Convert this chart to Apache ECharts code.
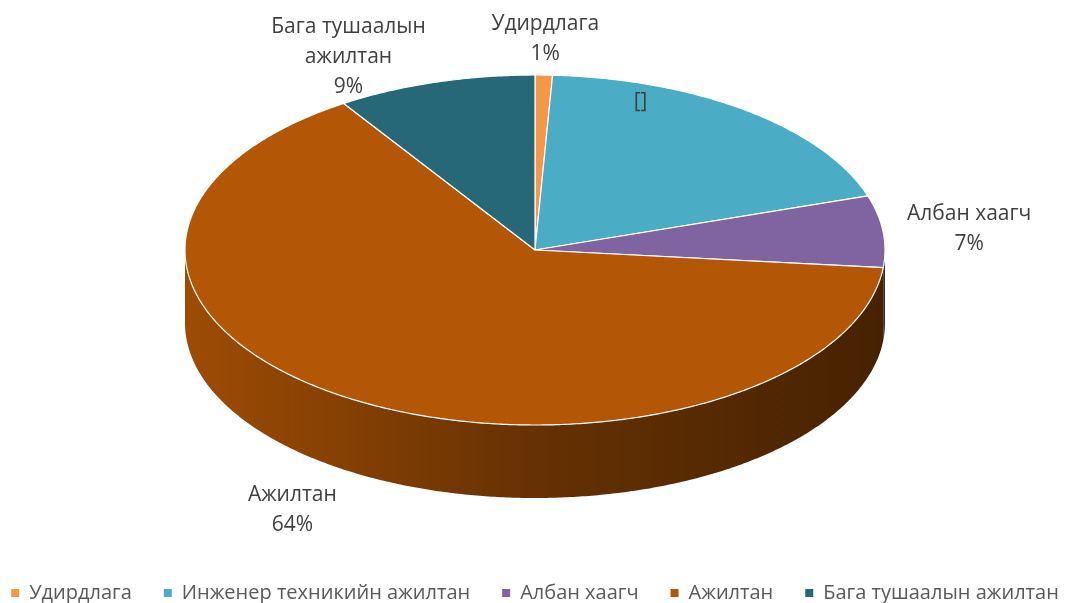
<!DOCTYPE html>
<html><head><meta charset="utf-8">
<script src="https://cdn.jsdelivr.net/npm/echarts@6/dist/echarts.min.js"></script>
<style>html,body{margin:0;padding:0;background:#fff}#chart{width:1070px;height:603px}</style>
</head><body><div id="chart"></div>
<script>
// ---- data ----
const categories = ['Удирдлага', 'Инженер техникийн ажилтан', 'Албан хаагч', 'Ажилтан', 'Бага тушаалын ажилтан'];
const values = [0.8, 19.2, 6.6, 64.2, 9.2];
const labelNames = ['Удирдлага', null, 'Албан хаагч', 'Ажилтан', 'Бага тушаалын\nажилтан'];
const colors = ['#F79646', '#4BACC6', '#8064A2', '#B35605', '#266878'];

// ---- layout / style (label nudges, px) ----
const labelNudge = [[0, 0], [-54, -44], [18, 2], [-30, 12], [-62, 26]];
const CX = 535, CY = 250, RX = 350, RY = 175, DEPTH = 73;
const FONT_FAMILY = '"Open Sans", "Noto Sans", sans-serif';
const LABEL_SIZE = 21, LINE_H = 30;
const total = values.reduce((a, b) => a + b, 0);

function shade(hex, f) {
  const n = parseInt(hex.slice(1), 16);
  const r = Math.round(((n >> 16) & 255) * f), g = Math.round(((n >> 8) & 255) * f), b = Math.round((n & 255) * f);
  return 'rgb(' + r + ',' + g + ',' + b + ')';
}
function pt(t, dy) { return [CX + RX * Math.sin(t), CY - RY * Math.cos(t) + (dy || 0)]; }
function arcPts(a, b, dy) {
  const n = Math.max(2, Math.ceil((b - a) / (Math.PI / 360)));
  const out = [];
  for (let i = 0; i <= n; i++) out.push(pt(a + (b - a) * i / n, dy));
  return out;
}
const mctx = document.createElement('canvas').getContext('2d');
function measure(text) {
  mctx.font = LABEL_SIZE + 'px ' + FONT_FAMILY;
  return Math.max.apply(null, text.split('\n').map(l => mctx.measureText(l).width));
}

function renderItem(params, api) {
  const i = params.dataIndex;
  let before = 0;
  for (let k = 0; k < i; k++) before += values[k];
  const v = api.value(0);
  const a = before / total * 2 * Math.PI, b = (before + v) / total * 2 * Math.PI;
  const children = [];
  const fa = Math.max(a, Math.PI / 2), fb = Math.min(b, 3 * Math.PI / 2);
  if (fb > fa) {
    const top = arcPts(fa, fb, 0), bot = arcPts(fa, fb, DEPTH).reverse();
    children.push({
      type: 'polygon', z2: 1,
      shape: { points: top.concat(bot) },
      style: {
        fill: new echarts.graphic.LinearGradient(CX - RX, 0, CX + RX, 0, [
          { offset: 0, color: shade(colors[i], 0.88) },
          { offset: 0.5, color: shade(colors[i], 0.57) },
          { offset: 1, color: shade(colors[i], 0.39) }
        ], true)
      }
    });
  }
  children.push({
    type: 'polygon', z2: 10,
    shape: { points: [[CX, CY]].concat(arcPts(a, b, 0)) },
    style: { fill: colors[i], stroke: '#ffffff', lineWidth: 1.2, lineJoin: 'round' }
  });
  const m = (a + b) / 2;
  const pct = Math.round(v / total * 100) + '%';
  const name = labelNames[i];
  const nd = labelNudge[i];
  if (name === null) {
    const p = [CX + RX * 0.75 * Math.sin(m), CY - RY * 0.75 * Math.cos(m)];
    children.push({ type: 'text', z2: 20, x: p[0] + nd[0], y: p[1] + nd[1],
      style: { text: '[]', fill: '#404040', font: LABEL_SIZE + 'px ' + FONT_FAMILY, align: 'center', verticalAlign: 'middle' } });
  } else {
    const text = name + '\n' + pct;
    const w = measure(text), h = text.split('\n').length * LINE_H;
    const e = pt(m, DEPTH * Math.max(0, -Math.cos(m)));
    let ux = Math.sin(m), uy = -Math.cos(m);
    const mx = Math.max(Math.abs(ux), Math.abs(uy));
    ux /= mx; uy /= mx;
    const gap = 6;
    children.push({ type: 'text', z2: 20, x: e[0] + ux * (w / 2 + gap) + nd[0], y: e[1] + uy * (h / 2 + gap) + nd[1],
      style: { text: text, fill: '#404040', font: LABEL_SIZE + 'px ' + FONT_FAMILY, lineHeight: LINE_H, align: 'center', verticalAlign: 'middle' } });
  }
  return { type: 'group', children: children };
}

const chart = echarts.init(document.getElementById('chart'), null, { renderer: 'canvas' });
chart.setOption({
  animation: false,
  backgroundColor: '#ffffff',
  legend: {
    data: categories, top: 578, left: 'center', selectedMode: false,
    icon: 'rect', itemWidth: 8, itemHeight: 8, itemGap: 32,
    textStyle: { fontFamily: FONT_FAMILY, fontSize: 20, color: '#595959', padding: [0, 0, 0, 5] }
  },
  series: [
    {
      type: 'pie', radius: [0, 0], center: [-50, -50], silent: true,
      label: { show: false }, labelLine: { show: false },
      data: categories.map((n, i) => ({ name: n, value: values[i], itemStyle: { color: colors[i] } }))
    },
    {
      type: 'custom', coordinateSystem: 'none', silent: true,
      renderItem: renderItem,
      data: values.map((v, i) => ({ name: categories[i], value: [v] }))
    }
  ]
});
</script></body></html>
